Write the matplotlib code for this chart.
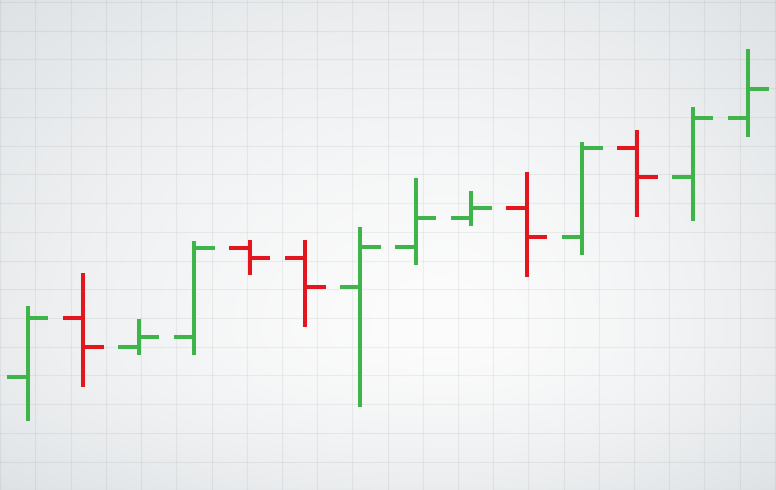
import numpy as np
import matplotlib
matplotlib.use("Agg")
import matplotlib.pyplot as plt

# OHLC values (arbitrary price units)
opens = [23.1, 35.2, 29.2, 31.3, 49.4, 47.3, 41.5, 49.5, 55.5, 57.6, 51.7, 69.7, 63.9, 75.9]
highs = [37.6, 44.3, 34.9, 50.8, 51.0, 51.0, 53.7, 63.6, 61.1, 64.8, 71.1, 73.5, 78.2, 90.0]
lows = [14.1, 21.0, 27.6, 27.6, 43.8, 33.3, 17.0, 45.9, 53.9, 43.5, 47.9, 55.7, 55.0, 72.1]
closes = [35.2, 29.2, 31.3, 49.4, 47.3, 41.5, 49.5, 55.5, 57.6, 51.7, 69.7, 63.9, 75.9, 81.8]

GREEN = "#3fb44a"
RED = "#e3161f"
TICK = 0.37
LW = 2.9


def background(ax):
    """Soft radial grey-to-white backdrop."""
    h, w = 490, 776
    yy, xx = np.mgrid[0:h, 0:w].astype(float)
    cx, cy = 440.0, 330.0
    dx = np.where(xx < cx, (xx - cx) / cx, (xx - cx) / (w - cx))
    dy = np.where(yy < cy, (yy - cy) / cy, (yy - cy) / (h - cy))
    t = np.clip(np.sqrt(dx ** 2 + dy ** 2) / np.sqrt(2), 0, 1) ** 1.5
    center = np.array([252, 252, 252]) / 255
    edge = np.array([222, 226, 229]) / 255
    img = center[None, None, :] * (1 - t[..., None]) + edge[None, None, :] * t[..., None]
    ax.imshow(img, extent=[0, 1, 0, 1], transform=ax.transAxes,
              aspect="auto", zorder=0, interpolation="bilinear")


fig = plt.figure(figsize=(7.76, 4.90), dpi=100)
ax = fig.add_axes([0, 0, 1, 1])
ax.set_xlim(-0.505, 13.5)
ax.set_ylim(0, 100)
ax.axis("off")

background(ax)

# decorative grid
for gx in np.arange(0.1354 - 0.6354, 14, 0.6354):
    ax.axvline(gx, color="black", alpha=0.05, lw=0.8, zorder=1)
for gy in np.arange(93.73 + 5.863, -6, -5.863):
    ax.axhline(gy, color="black", alpha=0.05, lw=0.8, zorder=1)

x = np.arange(len(opens))
colors = [GREEN if c >= o else RED for o, c in zip(opens, closes)]

ax.vlines(x, lows, highs, colors=colors, lw=LW, capstyle="butt", zorder=3)
ax.hlines(opens, x - TICK, x, colors=colors, lw=LW, capstyle="butt", zorder=3)
ax.hlines(closes, x, x + TICK, colors=colors, lw=LW, capstyle="butt", zorder=3)

fig.savefig("out.png", dpi=100)
